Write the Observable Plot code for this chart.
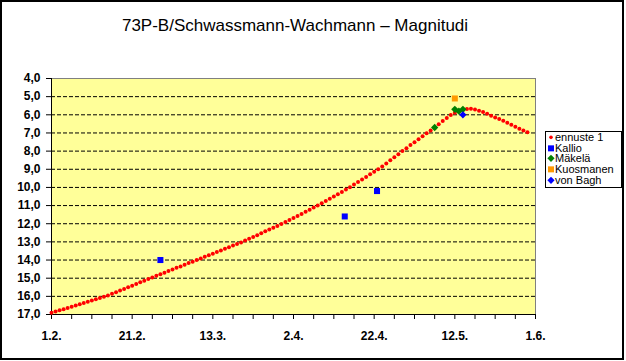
<!DOCTYPE html>
<html>
<head>
<meta charset="utf-8">
<script src="https://cdn.jsdelivr.net/npm/d3@7"></script>
<script src="https://cdn.jsdelivr.net/npm/@observablehq/plot@0.6"></script>
<style>
  html, body { margin: 0; padding: 0; background: #fff; }
  #wrap { position: relative; width: 626px; height: 361px; overflow: hidden; font-family: "Liberation Sans", Arial, sans-serif; }
  #chart { position: absolute; left: 0; top: 0; }
  #border { position: absolute; left: 0; top: 0; width: 624px; height: 360px; box-sizing: border-box; border: 2px solid #000; pointer-events: none; }
  #title { position: absolute; left: 0; top: 16.5px; width: 590px; text-align: center; font-size: 17px; line-height: 17px; color: #000; }
  #legend { position: absolute; left: 545px; top: 131px; width: 77px; height: 57px; box-sizing: border-box; border: 1px solid #000; background: #fff; font-size: 11px; padding-top: 0px; }
  #legend .row { height: 10.7px; line-height: 10.7px; white-space: nowrap; position: relative; }
  #legend svg { position: absolute; left: 0; top: 0; }
  #legend span { position: absolute; left: 9px; top: 0; }
</style>
</head>
<body>
<div id="wrap">
  <div id="chart"></div>
  <div id="title"></div>
  <div id="legend"></div>
  <div id="border"></div>
</div>
<script>
// ---- Data ----
const chartTitle = "73P-B/Schwassmann-Wachmann \u2013 Magnitudi";

// Forecast "ennuste 1": one value per day starting 1.2.2006
const forecastStart = "2006-02-01";
const forecastValues = [
  16.90, 16.84, 16.77, 16.71, 16.64, 16.57, 16.50, 16.43, 16.37, 16.30,
  16.23, 16.16, 16.09, 16.02, 15.95, 15.86, 15.77, 15.68, 15.59, 15.50,
  15.41, 15.32, 15.23, 15.14, 15.05, 14.96, 14.87, 14.78, 14.70, 14.61,
  14.52, 14.43, 14.35, 14.26, 14.17, 14.09, 14.00, 13.91, 13.82, 13.74,
  13.65, 13.56, 13.47, 13.38, 13.29, 13.20, 13.12, 13.03, 12.93, 12.83,
  12.73, 12.63, 12.52, 12.42, 12.32, 12.22, 12.12, 12.02, 11.91, 11.80,
  11.69, 11.57, 11.46, 11.34, 11.23, 11.11, 10.99, 10.87, 10.75, 10.63,
  10.50, 10.38, 10.25, 10.12, 9.99, 9.84, 9.70, 9.56, 9.42, 9.28,
  9.14, 9.00, 8.85, 8.68, 8.51, 8.34, 8.17, 8.00, 7.84, 7.67,
  7.51, 7.35, 7.18, 7.02, 6.87, 6.71, 6.52, 6.34, 6.17, 6.01,
  5.89, 5.79, 5.72, 5.68, 5.67, 5.71, 5.77, 5.84, 5.94, 6.05,
  6.15, 6.23, 6.33, 6.44, 6.55, 6.66, 6.77, 6.87, 6.96
];

const kallioDates = ["2006-02-28T00:00Z", "2006-04-14T17:00Z", "2006-04-22T17:00Z"];
const kallioMags = [14.0, 11.6, 10.2];

const makelaDates = ["2006-05-07", "2006-05-12", "2006-05-13", "2006-05-14"];
const makelaMags = [6.7, 5.7, 5.8, 5.7];

const kuosmanenDates = ["2006-05-12"];
const kuosmanenMags = [5.1];

const vonBaghDates = ["2006-05-14"];
const vonBaghMags = [6.0];

const xDomain = ["2006-02-01", "2006-06-01"];
const xTickDates = ["2006-02-01", "2006-02-21", "2006-03-13", "2006-04-02", "2006-04-22", "2006-05-12", "2006-06-01"];
const xTickLabels = ["1.2.", "21.2.", "13.3.", "2.4.", "22.4.", "12.5.", "1.6."];
const xMinorStepDays = 5;

const yDomain = [4, 17];
const yTicks = [4, 5, 6, 7, 8, 9, 10, 11, 12, 13, 14, 15, 16, 17];
const yTickLabels = ["4,0", "5,0", "6,0", "7,0", "8,0", "9,0", "10,0", "11,0", "12,0", "13,0", "14,0", "15,0", "16,0", "17,0"];
const yGrid = [5, 6, 7, 8, 9, 10, 11, 12, 13, 14, 15, 16];

const seriesNames = ["ennuste 1", "Kallio", "M\u00e4kel\u00e4", "Kuosmanen", "von Bagh"];
const seriesColors = ["#FF0000", "#0000FF", "#008000", "#FF9900", "#0000FF"];
const seriesSymbols = ["circle", "square", "diamond2", "square", "diamond2"];

// ---- Build tables ----
const parse = s => new Date(s.length === 10 ? s + "T00:00:00Z" : s);
const start = parse(forecastStart);
const forecast = forecastValues.map((v, i) => ({date: d3.utcDay.offset(start, i), mag: v}));
const pts = (dates, mags) => dates.map((d, i) => ({date: parse(d), mag: mags[i]}));
const kallio = pts(kallioDates, kallioMags);
const makela = pts(makelaDates, makelaMags);
const kuosmanen = pts(kuosmanenDates, kuosmanenMags);
const vonBagh = pts(vonBaghDates, vonBaghMags);

const d0 = parse(xDomain[0]), d1 = parse(xDomain[1]);
const nDays = d3.utcDay.count(d0, d1);
const minorTicks = d3.range(0, nDays + 1, xMinorStepDays).map(i => d3.utcDay.offset(d0, i));
const xLabelMap = new Map(xTickDates.map((d, i) => [+parse(d), xTickLabels[i]]));
const yLabelMap = new Map(yTicks.map((t, i) => [t, yTickLabels[i]]));

const plot = Plot.plot({
  width: 626,
  height: 361,
  marginLeft: 51,
  marginRight: 91,
  marginTop: 78,
  marginBottom: 47,
  style: {background: "transparent", fontFamily: "'Liberation Sans', Arial, sans-serif", fontSize: "12px", fontWeight: "bold", color: "#000"},
  x: {type: "utc", domain: [d0, d1]},
  y: {domain: yDomain, reverse: true},
  marks: [
    Plot.frame({fill: "#FFFF99", stroke: "none"}),
    Plot.ruleY(yGrid, {stroke: "#000", strokeDasharray: "4,2"}),
    Plot.ruleY([yDomain[0]], {stroke: "#808080"}),
    Plot.ruleX([d1], {stroke: "#808080"}),
    Plot.ruleX([d0], {stroke: "#000"}),
    Plot.ruleY([yDomain[1]], {stroke: "#000"}),
    Plot.axisY(yTicks, {tickSize: 5, tickPadding: 6, tickFormat: t => yLabelMap.get(t), label: null}),
    Plot.axisX(minorTicks, {tickSize: 5, tickPadding: 12, tickFormat: d => xLabelMap.get(+d) ?? "", label: null}),
    Plot.dot(forecast, {x: "date", y: "mag", r: 2, fill: seriesColors[0], stroke: "none"}),
    Plot.dot(kallio, {x: "date", y: "mag", symbol: seriesSymbols[1], r: 3.4, fill: seriesColors[1], stroke: "none"}),
    Plot.dot(kuosmanen, {x: "date", y: "mag", symbol: seriesSymbols[3], r: 3.4, fill: seriesColors[3], stroke: "none"}),
    Plot.dot(makela, {x: "date", y: "mag", symbol: seriesSymbols[2], r: 3.3, fill: seriesColors[2], stroke: "none"}),
    Plot.dot(vonBagh, {x: "date", y: "mag", symbol: seriesSymbols[4], r: 3.3, fill: seriesColors[4], stroke: "none"})
  ]
});
document.getElementById("chart").appendChild(plot);
document.getElementById("title").textContent = chartTitle;

// Legend
const legend = document.getElementById("legend");
seriesNames.forEach((name, i) => {
  const row = document.createElement("div");
  row.className = "row";
  const ns = "http://www.w3.org/2000/svg";
  const svg = document.createElementNS(ns, "svg");
  svg.setAttribute("width", "12");
  svg.setAttribute("height", "11");
  svg.style.left = "0px";
  let shape;
  const cx = 5, cy = 5.35;
  if (seriesSymbols[i] === "circle") {
    shape = document.createElementNS(ns, "circle");
    shape.setAttribute("cx", cx); shape.setAttribute("cy", cy); shape.setAttribute("r", 1.8);
  } else if (seriesSymbols[i] === "square") {
    shape = document.createElementNS(ns, "rect");
    shape.setAttribute("x", cx - 3); shape.setAttribute("y", cy - 3);
    shape.setAttribute("width", 6); shape.setAttribute("height", 6);
  } else {
    shape = document.createElementNS(ns, "path");
    const h = 3.6;
    shape.setAttribute("d", `M${cx},${cy - h}L${cx + h},${cy}L${cx},${cy + h}L${cx - h},${cy}Z`);
  }
  shape.setAttribute("fill", seriesColors[i]);
  svg.appendChild(shape);
  const span = document.createElement("span");
  span.textContent = name;
  row.appendChild(svg);
  row.appendChild(span);
  legend.appendChild(row);
});
</script>
</body>
</html>
